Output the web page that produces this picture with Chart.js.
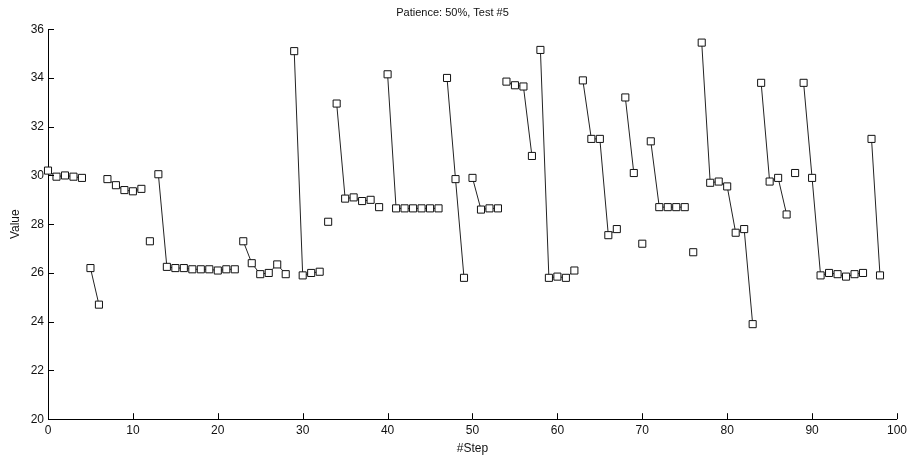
<!DOCTYPE html>
<html lang="en">
<head>
  <meta charset="UTF-8">
  <title>Patience: 50%, Test #5</title>
  <style>
    body {
      margin: 0;
      background: #fff;
    }
    #chart-container {
      width: 911px;
      height: 460px;
    }
  </style>
</head>
<body>
  <div id="chart-container">
    <canvas id="lineChart"></canvas>
  </div>

  <script src="https://cdn.jsdelivr.net/npm/chart.js"></script>
  <script>
    const steps = [
      0, 1, 2, 3, 4, 5, 6, 7, 8, 9,
      10, 11, 12, 13, 14, 15, 16, 17, 18, 19,
      20, 21, 22, 23, 24, 25, 26, 27, 28, 29,
      30, 31, 32, 33, 34, 35, 36, 37, 38, 39,
      40, 41, 42, 43, 44, 45, 46, 47, 48, 49,
      50, 51, 52, 53, 54, 55, 56, 57, 58, 59,
      60, 61, 62, 63, 64, 65, 66, 67, 68, 69,
      70, 71, 72, 73, 74, 75, 76, 77, 78, 79,
      80, 81, 82, 83, 84, 85, 86, 87, 88, 89,
      90, 91, 92, 93, 94, 95, 96, 97, 98
    ];
    const values = [
      30.2, 29.95, 30.0, 29.95, 29.9, 26.2, 24.7, 29.85, 29.6, 29.4,
      29.35, 29.45, 27.3, 30.05, 26.25, 26.2, 26.2, 26.15, 26.15, 26.15,
      26.1, 26.15, 26.15, 27.3, 26.4, 25.95, 26.0, 26.35, 25.95, 35.1,
      25.9, 26.0, 26.05, 28.1, 32.95, 29.05, 29.1, 28.95, 29.0, 28.7,
      34.15, 28.65, 28.65, 28.65, 28.65, 28.65, 28.65, 34.0, 29.85, 25.8,
      29.9, 28.6, 28.65, 28.65, 33.85, 33.7, 33.65, 30.8, 35.15, 25.8,
      25.85, 25.8, 26.1, 33.9, 31.5, 31.5, 27.55, 27.8, 33.2, 30.1,
      27.2, 31.4, 28.7, 28.7, 28.7, 28.7, 26.85, 35.45, 29.7, 29.75,
      29.55, 27.65, 27.8, 23.9, 33.8, 29.75, 29.9, 28.4, 30.1, 33.8,
      29.9, 25.9, 26.0, 25.95, 25.85, 25.95, 26.0, 31.5, 25.9
    ];
    // steps where a new connected run begins (no line from the previous point)
    const runStarts = [0, 5, 7, 12, 13, 23, 29, 33, 34, 39, 40, 47, 50, 54, 58, 63, 68, 70, 71, 76, 77, 84, 88, 89, 97];
    const xTicks = [0, 10, 20, 30, 40, 50, 60, 70, 80, 90, 100];
    const yTicks = [20, 22, 24, 26, 28, 30, 32, 34, 36];

    const font = 'Liberation Sans, Arial, sans-serif';

    // small inward tick marks, like the original plot
    const inwardTicks = {
      id: 'inwardTicks',
      afterDraw(chart) {
        const ctx = chart.ctx;
        const x = chart.scales.x;
        const y = chart.scales.y;
        ctx.save();
        ctx.strokeStyle = '#000';
        ctx.lineWidth = 1;
        ctx.beginPath();
        xTicks.forEach(v => {
          const px = Math.round(x.getPixelForValue(v)) + 0.5;
          ctx.moveTo(px, y.bottom);
          ctx.lineTo(px, y.bottom - 6);
        });
        yTicks.forEach(v => {
          const py = Math.round(y.getPixelForValue(v)) + 0.5;
          ctx.moveTo(x.left, py);
          ctx.lineTo(x.left + 6, py);
        });
        ctx.stroke();
        ctx.restore();
      }
    };

    new Chart(document.getElementById('lineChart'), {
      type: 'line',
      data: {
        datasets: [{
          label: 'Value',
          data: steps.map((s, i) => ({ x: s, y: values[i] })),
          borderColor: '#222',
          borderWidth: 1,
          pointStyle: 'rect',
          pointRadius: 5,
          pointBorderWidth: 1,
          pointBorderColor: '#111',
          pointBackgroundColor: '#fff',
          tension: 0,
          clip: false,
          segment: {
            borderColor: c => runStarts.includes(steps[c.p1DataIndex]) ? 'transparent' : '#222'
          }
        }]
      },
      options: {
        responsive: true,
        maintainAspectRatio: false,
        animation: false,
        layout: {
          padding: { left: 8, right: 14, top: 0, bottom: 0 }
        },
        plugins: {
          legend: { display: false },
          tooltip: { enabled: false },
          title: {
            display: true,
            text: 'Patience: 50%, Test #5',
            color: '#111',
            font: { family: font, size: 11, weight: 'normal' },
            padding: { top: 6, bottom: 10 }
          }
        },
        scales: {
          x: {
            type: 'linear',
            min: 0,
            max: 100,
            afterBuildTicks: s => { s.ticks = xTicks.map(v => ({ value: v })); },
            grid: { drawOnChartArea: false, drawTicks: false },
            border: { display: true, color: '#000', width: 1 },
            ticks: {
              color: '#111',
              padding: 4,
              maxRotation: 0,
              font: { family: font, size: 12 }
            },
            title: {
              display: true,
              text: '#Step',
              color: '#111',
              font: { family: font, size: 12 },
              padding: { top: 0, bottom: 4 }
            }
          },
          y: {
            min: 20,
            max: 36,
            afterBuildTicks: s => { s.ticks = yTicks.map(v => ({ value: v })); },
            afterFit: s => { s.width = 40; },
            grid: { drawOnChartArea: false, drawTicks: false },
            border: { display: true, color: '#000', width: 1 },
            ticks: {
              color: '#111',
              padding: 4,
              font: { family: font, size: 12 }
            },
            title: {
              display: true,
              text: 'Value',
              color: '#111',
              font: { family: font, size: 12 },
              padding: { top: 0, bottom: 2 }
            }
          }
        }
      },
      plugins: [inwardTicks]
    });
  </script>
</body>
</html>
